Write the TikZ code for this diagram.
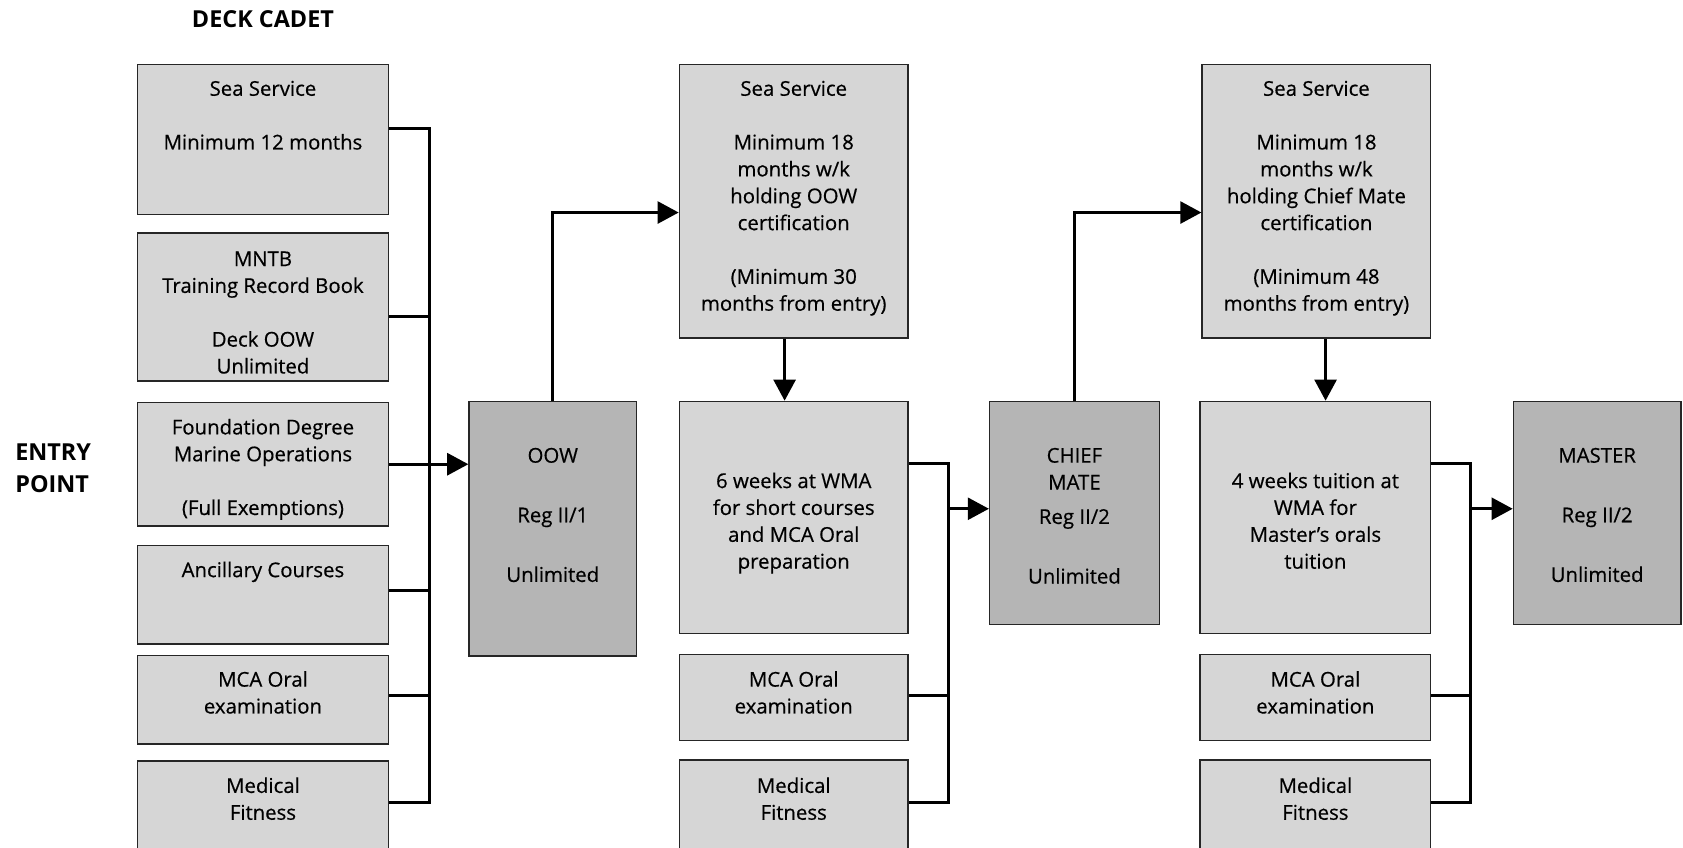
\documentclass[tikz,border=0pt]{standalone}
\usepackage{fontspec}
\setmainfont{Open Sans}
\newfontfamily\boxfont{Open Sans}[FakeBold=0.5]
\usetikzlibrary{arrows.meta}
\begin{document}
\begin{tikzpicture}[x=0.025cm,y=-0.025cm,
  box/.style={draw=black!85, line width=0.9pt, fill=gray!32, inner sep=0pt},
  dbox/.style={box, fill=gray!58},
  txt/.style={align=center, font=\boxfont\fontsize{13.5}{17.8}\selectfont, inner sep=0pt, anchor=north},
  head/.style={font=\bfseries\fontsize{15.5}{21.3}\selectfont, inner sep=0pt},
  conn/.style={line width=2.1pt, draw=black},
  arr/.style={conn, -{Triangle[length=14pt,width=14.5pt]}},
  ]
\useasboundingbox (0,0) rectangle (1568,790);
\clip (0,0) rectangle (1568,790);

% headings
\node[head] (deck) at (245,18) {DECK CADET};
\node[head, align=left, anchor=west] (entry) at (14,436) {ENTRY\\POINT};

% column 1
\node[box, minimum width=5.85cm, minimum height=3.5cm] (b1) at (245,130) {};
\node[box, minimum width=5.85cm, minimum height=3.45cm] (b2) at (245,286) {};
\node[box, minimum width=5.85cm, minimum height=2.875cm] (b3) at (245,432.5) {};
\node[box, minimum width=5.85cm, minimum height=2.3cm] (b4) at (245,554) {};
\node[box, minimum width=5.85cm, minimum height=2.05cm] (b5) at (245,652) {};
\node[box, minimum width=5.85cm, minimum height=3.025cm] (b6) at (245,769.5) {};
\node[txt] (b1t) at (245,75) {Sea Service\\[17.8pt]Minimum 12 months};
\node[txt] (b2t) at (245,234) {MNTB\\Training Record Book\\[17.8pt]Deck OOW\\Unlimited};
\node[txt] (b3t) at (245,390) {Foundation Degree\\Marine Operations\\[17.8pt](Full Exemptions)};
\node[txt] (b4t) at (245,523) {Ancillary Courses};
\node[txt] (b5t) at (245,625) {MCA Oral\\examination};
\node[txt] (b6t) at (245,724) {Medical\\Fitness};

% OOW
\node[dbox, minimum width=3.9cm, minimum height=5.925cm] (oow) at (515,492.5) {};
\node[txt] (oowt) at (515,417) {OOW\\[21.7pt]Reg II/1\\[21.7pt]Unlimited};

% column 2
\node[box, minimum width=5.325cm, minimum height=6.375cm] (sea2) at (739.5,187.5) {};
\node[box, minimum width=5.325cm, minimum height=5.4cm] (wk6) at (739.5,482) {};
\node[box, minimum width=5.325cm, minimum height=2cm] (mca2) at (739.5,650) {};
\node[box, minimum width=5.325cm, minimum height=3.05cm] (med2) at (739.5,769) {};
\node[txt] (sea2t) at (739.5,75) {Sea Service\\[17.8pt]Minimum 18\\months w/k\\holding OOW\\certification\\[17.8pt](Minimum 30\\months from entry)};
\node[txt] (wk6t) at (739.5,440) {6 weeks at WMA\\for short courses\\and MCA Oral\\preparation};
\node[txt] (mca2t) at (739.5,625) {MCA Oral\\examination};
\node[txt] (med2t) at (739.5,724) {Medical\\Fitness};

% Chief mate
\node[dbox, minimum width=3.95cm, minimum height=5.2cm] (chief) at (1001,478) {};
\node[txt] (chieft) at (1001,417) {CHIEF\\MATE\\[5pt]Reg II/2\\[21.7pt]Unlimited};

% column 3
\node[box, minimum width=5.325cm, minimum height=6.375cm] (sea3) at (1226.5,187.5) {};
\node[box, minimum width=5.375cm, minimum height=5.4cm] (wk4) at (1225.5,482) {};
\node[box, minimum width=5.375cm, minimum height=2cm] (mca3) at (1225.5,650) {};
\node[box, minimum width=5.375cm, minimum height=3.05cm] (med3) at (1225.5,769) {};
\node[txt] (sea3t) at (1226.5,75) {Sea Service\\[17.8pt]Minimum 18\\months w/k\\holding Chief Mate\\certification\\[17.8pt](Minimum 48\\months from entry)};
\node[txt] (wk4t) at (1225.5,440) {4 weeks tuition at\\WMA for\\Master’s orals\\tuition};
\node[txt] (mca3t) at (1225.5,625) {MCA Oral\\examination};
\node[txt] (med3t) at (1225.5,724) {Medical\\Fitness};

% Master
\node[dbox, minimum width=3.9cm, minimum height=5.2cm] (master) at (1488,478) {};
\node[txt] (mastert) at (1488,417) {MASTER\\[21.7pt]Reg II/2\\[21.7pt]Unlimited};

% connectors column 1
\coordinate (j1a) at (400,120);
\coordinate (j1b) at (400,295);
\coordinate (j1c) at (400,432.5);
\coordinate (j1d) at (400,550);
\coordinate (j1e) at (400,648);
\coordinate (j1f) at (400,748);
\draw[conn] (b1.east |- j1a) -- (j1a) -- (j1f) -- (b6.east |- j1f);
\draw[conn] (b2.east |- j1b) -- (j1b);
\draw[conn] (b3.east |- j1c) -- (j1c);
\draw[conn] (b4.east |- j1d) -- (j1d);
\draw[conn] (b5.east |- j1e) -- (j1e);
\draw[arr] (j1c) -- (oow.west |- j1c);

\coordinate (k1) at (515,198);
\draw[arr] (oow.north) -- (oow.north |- k1) -- (sea2.west |- k1);
\coordinate (d1) at (731,315);
\draw[arr] (sea2.south -| d1) -- (wk6.north -| d1);

% connectors column 2
\coordinate (j2a) at (884,432);
\coordinate (j2m) at (884,474);
\coordinate (j2b) at (884,648);
\coordinate (j2c) at (884,748);
\draw[conn] (wk6.east |- j2a) -- (j2a) -- (j2c) -- (med2.east |- j2c);
\draw[conn] (mca2.east |- j2b) -- (j2b);
\draw[arr] (j2m) -- (chief.west |- j2m);

\coordinate (k2) at (1001,198);
\draw[arr] (chief.north) -- (chief.north |- k2) -- (sea3.west |- k2);
\coordinate (d2) at (1235,315);
\draw[arr] (sea3.south -| d2) -- (wk4.north -| d2);

% connectors column 3
\coordinate (j3a) at (1370,432);
\coordinate (j3m) at (1370,474);
\coordinate (j3b) at (1370,648);
\coordinate (j3c) at (1370,748);
\draw[conn] (wk4.east |- j3a) -- (j3a) -- (j3c) -- (med3.east |- j3c);
\draw[conn] (mca3.east |- j3b) -- (j3b);
\draw[arr] (j3m) -- (master.west |- j3m);
\end{tikzpicture}
\end{document}
